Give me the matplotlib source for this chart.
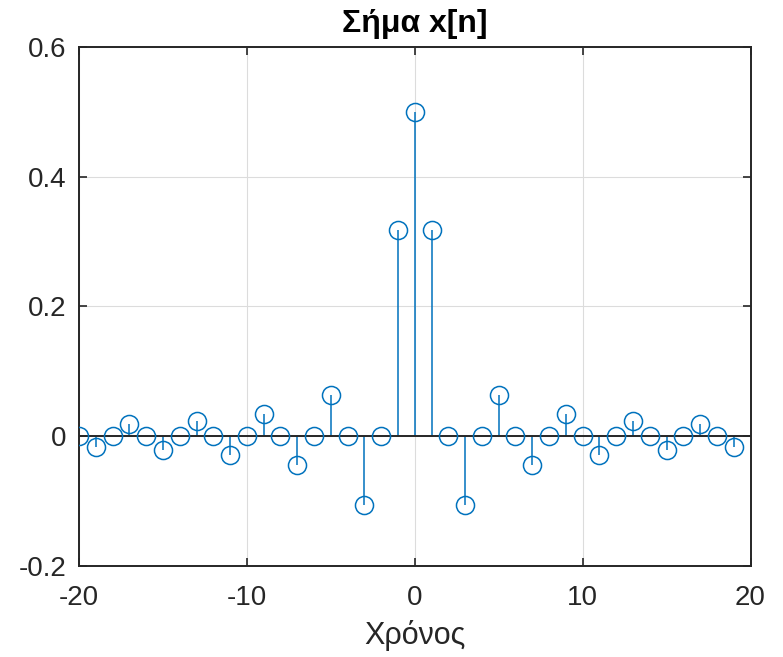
import matplotlib
matplotlib.use("Agg")
import matplotlib.pyplot as plt

# Σήμα x[n], τιμές διαβασμένες από το γράφημα
n = list(range(-20, 20))
x = [0, -0.017, 0, 0.019, 0, -0.021, 0, 0.024, 0, -0.029,
     0, 0.035, 0, -0.045, 0, 0.064, 0, -0.106, 0, 0.318,
     0.5, 0.318, 0, -0.106, 0, 0.064, 0, -0.045, 0, 0.035,
     0, -0.029, 0, 0.024, 0, -0.021, 0, 0.019, 0, -0.017]

xticks = [-20, -10, 0, 10, 20]
yticks = [-0.2, 0, 0.2, 0.4, 0.6]
ytick_labels = ["-0.2", "0", "0.2", "0.4", "0.6"]

matplotlib.rcParams["font.family"] = ["Liberation Sans", "DejaVu Sans"]
matplotlib.rcParams["axes.unicode_minus"] = False

blue = "#0072BD"
dark = "#262626"

fig = plt.figure(figsize=(7.83, 6.57), dpi=100)
ax = fig.add_axes([0.1009, 0.1385, 0.8576, 0.79])

markerline, stemlines, baseline = ax.stem(n, x, basefmt=" ")
markerline.set_marker("o")
markerline.set_markersize(13)
markerline.set_markerfacecolor("none")
markerline.set_markeredgecolor(blue)
markerline.set_markeredgewidth(1.1)
stemlines.set_color(blue)
stemlines.set_linewidth(1.1)
markerline.set_zorder(3)
stemlines.set_zorder(2)

ax.axhline(0, color=dark, linewidth=1.4, zorder=2.5)

ax.set_xlim(-20, 20)
ax.set_ylim(-0.2, 0.6)
ax.set_xticks(xticks)
ax.set_yticks(yticks)
ax.set_yticklabels(ytick_labels)

ax.grid(True, color="#dcdcdc", linewidth=0.8)
ax.set_axisbelow(True)

for sp in ax.spines.values():
    sp.set_color(dark)
    sp.set_linewidth(1.4)
ax.tick_params(direction="in", top=True, right=True, length=6, width=1.2,
               color=dark, labelcolor=dark, labelsize=20)
ax.tick_params(axis="x", pad=14)
ax.tick_params(axis="y", pad=9)

ax.set_title("Σήμα x[n]", fontsize=23, fontweight="bold", color="black", pad=11)
ax.set_xlabel("Χρόνος", fontsize=22, color=dark, labelpad=6)

fig.savefig("out.png", dpi=100)
